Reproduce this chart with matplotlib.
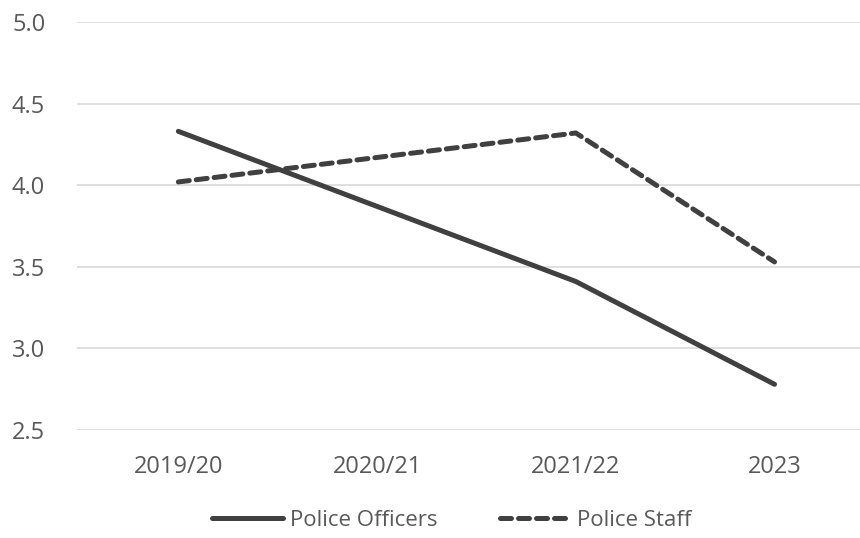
import matplotlib.pyplot as plt

# survey scores by year
years = ["2019/20", "2020/21", "2021/22", "2023"]
officers = [4.33, 3.87, 3.41, 2.78]
staff = [4.02, 4.17, 4.32, 3.53]
yticks = [2.5, 3.0, 3.5, 4.0, 4.5, 5.0]

plt.rcParams['font.family'] = ['Open Sans', 'DejaVu Sans']

fig = plt.figure(figsize=(8.6, 5.38), dpi=100)
ax = fig.add_axes([77 / 860, 108 / 538, 783 / 860, 408 / 538])

x = list(range(len(years)))
line_col = "#404040"
ax.plot(x, officers, color=line_col, lw=3.6, solid_capstyle="round",
        label="Police Officers")
ax.plot(x, staff, color=line_col, lw=3.6, ls=(0, (2.2, 1.4)),
        dash_capstyle="round", label="Police Staff")

ax.set_xlim(-0.51, 3.43)
ax.set_ylim(2.5, 5.0)
ax.set_yticks(yticks)
ax.set_yticklabels([f"{v:.1f}" for v in yticks])
ax.set_xticks(x)
ax.set_xticklabels(years)
ax.yaxis.grid(True, color="#d9d9d9", lw=1.2)
ax.set_axisbelow(True)
for s in ax.spines.values():
    s.set_visible(False)
ax.tick_params(axis="both", length=0, labelsize=17, labelcolor="#595959")
ax.tick_params(axis="x", pad=18)
ax.tick_params(axis="y", pad=0)
for t in ax.get_yticklabels():
    t.set_horizontalalignment("left")
    t.set_x(-65 / 783)

leg = fig.legend(loc="center", bbox_to_anchor=(452 / 860, 1 - 520 / 538),
                 ncol=2, frameon=False, fontsize=16, handlelength=3.2,
                 handletextpad=0.3, columnspacing=2.8)
for t in leg.get_texts():
    t.set_color("#595959")

fig.savefig("out.png", dpi=100)
